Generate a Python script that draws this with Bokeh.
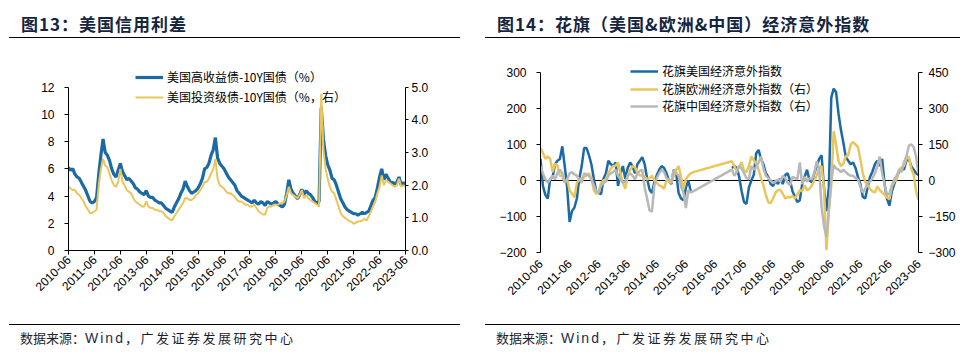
import math
import numpy as np
from bokeh.plotting import figure
from bokeh.layouts import row, column
from bokeh.models import (Range1d, LinearAxis, FixedTicker, Legend, LegendItem,
                          Span, NumeralTickFormatter, Div)
from bokeh.embed import file_html
from bokeh.resources import INLINE

# ---------------- data ----------------
tick_labels = ["2010-06", "2011-06", "2012-06", "2013-06", "2014-06", "2015-06", "2016-06",
               "2017-06", "2018-06", "2019-06", "2020-06", "2021-06", "2022-06", "2023-06"]

# monthly, 2010-06 .. 2023-06
hy_spread = [
    6.1, 5.9, 6.0, 5.6, 5.4, 5.3, 5.0,
    4.7, 4.4, 4.0, 3.6, 3.5, 3.6, 3.9, 5.6, 7.0, 8.2, 7.2, 7.0,
    6.6, 6.0, 5.6, 5.4, 5.9, 6.4, 5.8, 5.5, 5.2, 5.3, 5.1, 4.9,
    4.6, 4.5, 4.3, 4.2, 4.1, 4.4, 4.0, 3.9, 3.9, 3.7, 3.6, 3.5,
    3.5, 3.3, 3.1, 3.0, 2.9, 2.8, 3.2, 3.5, 3.8, 4.2, 4.5, 5.1,
    4.7, 4.4, 4.2, 4.3, 4.4, 4.6, 4.9, 5.3, 6.0, 6.1, 6.4, 7.0,
    7.4, 8.3, 6.8, 6.4, 6.2, 6.0, 5.7, 5.4, 5.2, 5.0, 4.8, 4.4,
    4.2, 4.0, 3.9, 3.8, 3.7, 3.6, 3.5, 3.7, 3.5, 3.4, 3.6, 3.5,
    3.3, 3.6, 3.5, 3.4, 3.5, 3.6, 3.4, 3.3, 3.2, 3.4, 4.2, 5.2,
    4.5, 4.2, 4.0, 3.8, 4.1, 4.5, 4.1, 4.4, 4.2, 4.1, 3.9, 3.6,
    3.5, 3.6, 10.5, 8.2, 7.0, 6.3, 5.9, 5.3, 5.2, 4.8, 4.3, 3.8,
    3.5, 3.2, 3.0, 2.9, 2.8, 2.7, 2.7, 2.6, 2.7, 2.8, 2.7, 2.8,
    2.9, 3.3, 3.7, 3.9, 4.6, 5.4, 6.0, 5.2, 5.6, 5.3, 5.0, 5.0,
    4.9, 5.0, 5.4, 4.8, 5.0, 4.8,
]
ig_spread = [
    1.95, 1.9, 1.85, 1.85, 1.75, 1.7, 1.6,
    1.5, 1.35, 1.25, 1.15, 1.15, 1.2, 1.25, 2.0, 2.5, 2.8, 2.6, 2.55,
    2.35, 2.15, 2.0, 1.95, 2.1, 2.5, 2.1, 2.0, 1.85, 1.8, 1.75, 1.6,
    1.5, 1.45, 1.4, 1.35, 1.35, 1.5, 1.35, 1.3, 1.3, 1.25, 1.25, 1.2,
    1.2, 1.15, 1.05, 1.0, 0.95, 0.92, 1.05, 1.15, 1.25, 1.35, 1.45, 1.6,
    1.6, 1.55, 1.55, 1.6, 1.7, 1.75, 1.85, 1.95, 2.1, 2.1, 2.2, 2.35,
    2.5, 2.8, 2.2, 2.0, 1.95, 1.9, 1.8, 1.75, 1.75, 1.7, 1.65, 1.55,
    1.5, 1.5, 1.45, 1.4, 1.4, 1.35, 1.35, 1.4, 1.3, 1.2, 1.15, 1.1,
    1.1, 1.3, 1.35, 1.35, 1.4, 1.4, 1.4, 1.45, 1.45, 1.5, 1.7, 1.95,
    1.75, 1.7, 1.65, 1.6, 1.7, 1.85, 1.6, 1.7, 1.6, 1.55, 1.5, 1.45,
    1.4, 1.35, 4.8, 3.1, 2.5, 2.2, 1.95, 1.8, 1.75, 1.55, 1.35, 1.15,
    1.05, 1.0, 0.95, 0.9, 0.88, 0.82, 0.85, 0.88, 0.9, 0.92, 0.97, 0.92,
    1.05, 1.2, 1.35, 1.5, 1.75, 1.95, 2.3, 2.0, 2.15, 2.1, 2.05, 2.0,
    1.95, 2.0, 2.2, 1.95, 2.0, 1.95,
]

N = None
us_surprise = [
    60, -15, -40, -50, 5, 10, 45,
    55, 60, 95, 40, -20, -115, -85, -75, -50, 5, 40, 90,
    90, 70, 45, 5, -30, -35, -38, 5, 20, 55, 45, 40,
    50, -15, 20, 40, 5, 35, 50, 40, 20, 45, 55, 65,
    45, 5, -25, -35, -5, 15, 30, 40, 35, 20, 0, -10,
    30, 20, -35, -50, -55, -20, 0, -30, N, N, N, N,
    N, N, N, N, N, N, N, N, N, N, N, N,
    35, 40, 35, 10, -30, -60, -65, -20, 0, 15, 75, 85,
    60, 45, 20, 10, -10, -15, 0, -10, 5, -10, 15, 20,
    0, -30, -45, -60, -55, -10, 10, 30, 0, -5, 20, 40,
    60, 70, -20, -85, -20, 230, 255, 245, 185, 140, 105, 65,
    55, 45, 50, 35, 10, -10, -45, -50, -20, 10, 25, 45,
    55, 40, 60, -10, -50, -70, -30, -10, 10, 25, 35, 30,
    55, 60, 40, 30, 20, 15,
]
eu_surprise = [
    135, 115, 90, 100, 90, 35, 70,
    62, 20, 18, -5, 5, -40, -55, -70, -10, 5, 8, 15,
    20, 30, 10, -40, -55, -50, -10, 0, 5, 30, 50, 60,
    62, 75, 30, -10, -35, 20, 45, 60, 55, 30, 22, 20,
    15, 5, 10, 20, 0, -10, -20, -25, -35, 0, -5, -10,
    20, 45, 60, 15, -35, 5, 20, 30, 35, N, N, N,
    N, N, N, N, N, N, N, N, N, N, N, N,
    80, 60, 35, 60, 75, 40, 35, 60, 100, 85, 70, 45,
    10, -20, -60, -90, -95, -75, -50, -40, -40, -55, -75, -70,
    -70, -65, -75, -60, -40, -45, -20, -40, -35, -20, 0, 20,
    50, 60, -30, -290, -130, -20, 205, 150, 80, 60, 70, 100,
    105, 150, 160, 150, 140, 90, 30, -5, -20, -35, -45, -50,
    -25, -40, -50, -60, -70, -78, -25, -5, 5, 45, 55, 60,
    90, 100, 50, 25, -45, -80,
]
cn_surprise = [
    60, 30, 5, -10, 5, 20, 5,
    30, 45, 30, -10, 5, 30, 35, 25, 20, 5, -10, 30,
    25, 20, 5, -20, -45, -50, -20, -10, -5, 20, 30, 35,
    45, 20, 5, -10, -5, 20, 30, 20, 5, 30, 40, 45,
    -30, -75, -125, -130, -20, 10, 30, 45, 35, 10, 5, -5,
    45, 30, 20, -25, -50, -115, -40, -50, -45, N, N, N,
    N, N, N, N, N, N, N, N, N, N, N, N,
    45, 20, 35, 60, 50, 30, 10, 5, 60, 45, 55, 75,
    100, 50, 20, 10, 0, -10, -5, 5, -5, 20, 10, -10,
    -20, 15, 10, 5, 75, -15, 15, -5, 10, 5, 30, 80,
    50, -110, -190, -235, -120, 0, 65, 50, 45, 35, 45, 35,
    25, 20, 20, 10, 5, -25, -50, -35, -10, -5, 10, 30,
    60, 100, 30, -20, -60, -55, -20, 5, 20, 45, 35, 75,
    100, 145, 150, 140, 100, 30,
]

# ---------------- styling ----------------
BLUE = "#1B69A5"
YELLOW = "#E9C65C"
GREY = "#B8B8B8"
TITLE_C = "#15243F"
CJK = "Noto Sans CJK SC"
LATIN = "Liberation Sans"

x_all = np.arange(len(hy_spread))
tick_pos = [i * 12 for i in range(len(tick_labels))]
overrides = {p: l for p, l in zip(tick_pos, tick_labels)}


def header(width, text, tx, lx0, lx1):
    html = (
        f'<div style="position:relative;width:{width}px;height:44px;margin:0;padding:0;">'
        f'<div style="position:absolute;left:{tx}px;top:13px;white-space:nowrap;'
        f"font-family:'{CJK}';font-weight:bold;font-size:17px;line-height:22px;"
        f'letter-spacing:1.0px;color:{TITLE_C};">{text}</div>'
        f'<div style="position:absolute;left:{lx0}px;top:37px;width:{lx1 - lx0}px;'
        f'height:0;border-top:1.4px solid #000;"></div></div>'
    )
    return Div(text=html, width=width, height=44, margin=0)


def footer(width, tx, lx0, lx1):
    html = (
        f'<div style="position:relative;width:{width}px;height:44px;margin:0;padding:0;">'
        f'<div style="position:absolute;left:{lx0}px;top:8px;width:{lx1 - lx0}px;'
        f'height:0;border-top:1.4px solid #000;"></div>'
        f'<div style="position:absolute;left:{tx}px;top:13px;white-space:nowrap;'
        f"font-family:'{CJK}';font-size:13px;line-height:18px;color:#1E1E2A;\">"
        f'<span>数据来源：</span>'
        f"<span style=\"font-family:'{LATIN}';font-size:14px;letter-spacing:2px;"
        f'color:#1C2B4A;">Wind</span>'
        f'<span style="letter-spacing:2.5px;">，广发证券发展研究中心</span></div></div>'
    )
    return Div(text=html, width=width, height=44, margin=0)


def style_axis(ax, tick_out, standoff):
    ax.axis_line_color = "black"
    ax.axis_line_width = 1
    ax.major_tick_line_color = "black"
    ax.major_tick_in = 0
    ax.major_tick_out = tick_out
    ax.minor_tick_line_color = None
    ax.major_label_text_font = LATIN
    ax.major_label_text_font_size = "12px"
    ax.major_label_text_color = "black"
    ax.major_label_standoff = standoff


def one_legend(label, renderer, x, y, size):
    return Legend(items=[LegendItem(label=label, renderers=[renderer])],
                  location=(x, y), glyph_width=28, glyph_height=14, label_height=14,
                  spacing=0, padding=0, margin=0, label_standoff=4,
                  label_text_font=CJK, label_text_font_size=size, label_text_color="black",
                  border_line_color=None, background_fill_alpha=0)


# ---------------- left chart ----------------
L_TOP = 13.962   # frame extends above 12 to host the legend; axis bounded to 0-12
pL = figure(width=485, height=272, x_range=Range1d(0, 156), y_range=Range1d(0, L_TOP),
            toolbar_location=None, output_backend="svg", title=None,
            min_border_left=68, min_border_right=80, min_border_top=16, min_border_bottom=66,
            outline_line_color=None)
pL.xgrid.visible = False
pL.ygrid.visible = False
pL.extra_y_ranges = {"r": Range1d(0, L_TOP / 2.4)}
axLR = LinearAxis(y_range_name="r", ticker=FixedTicker(ticks=[0, 1, 2, 3, 4, 5]),
                  formatter=NumeralTickFormatter(format="0.0"), bounds=(0, 5))
pL.add_layout(axLR, "right")
pL.yaxis[0].ticker = FixedTicker(ticks=[0, 2, 4, 6, 8, 10, 12])
pL.yaxis[0].bounds = (0, 12)
style_axis(pL.yaxis[0], 4, 10)
style_axis(axLR, 3, 3)
style_axis(pL.xaxis[0], 4, 3)
pL.xaxis[0].ticker = FixedTicker(ticks=tick_pos)
pL.xaxis[0].major_label_overrides = overrides
pL.xaxis[0].major_label_orientation = math.pi / 4

r1 = pL.line(x_all, hy_spread, line_color=BLUE, line_width=3.2)
r2 = pL.line(x_all, ig_spread, line_color=YELLOW, line_width=2, y_range_name="r")

pL.add_layout(one_legend("美国高收益债-10Y国债（%）", r1, 67, 165, "12px"))
pL.add_layout(one_legend("美国投资级债-10Y国债（%，右）", r2, 67, 145, "12px"))

# ---------------- right chart ----------------
R_TOP = 344.4
pR = figure(width=486, height=272, x_range=Range1d(0, 156), y_range=Range1d(-200, R_TOP),
            toolbar_location=None, output_backend="svg", title=None,
            min_border_left=55, min_border_right=53, min_border_top=12, min_border_bottom=64,
            outline_line_color=None)
pR.xgrid.visible = False
pR.ygrid.visible = False
pR.extra_y_ranges = {"r": Range1d(-300, R_TOP * 1.5)}
axRR = LinearAxis(y_range_name="r", ticker=FixedTicker(ticks=[-300, -150, 0, 150, 300, 450]),
                  bounds=(-300, 450))
pR.add_layout(axRR, "right")
pR.yaxis[0].ticker = FixedTicker(ticks=[-200, -100, 0, 100, 200, 300])
pR.yaxis[0].bounds = (-200, 300)
style_axis(pR.yaxis[0], 4, 10)
style_axis(axRR, 4, 6)
style_axis(pR.xaxis[0], 0, 9)
pR.xaxis[0].axis_line_color = None
pR.xaxis[0].major_tick_line_color = None
pR.xaxis[0].ticker = FixedTicker(ticks=tick_pos)
pR.xaxis[0].major_label_overrides = overrides
pR.xaxis[0].major_label_orientation = math.pi / 4

pR.add_layout(Span(location=0, dimension="width", line_color="black", line_width=1,
                   level="underlay"))

us_arr = np.array(us_surprise, dtype=float)
eu_arr = np.array(eu_surprise, dtype=float)
cn_arr = np.array(cn_surprise, dtype=float)
eu_ok = ~np.isnan(eu_arr)
cn_ok = ~np.isnan(cn_arr)

s1 = pR.line(x_all, us_arr, line_color=BLUE, line_width=2.5)
s2 = pR.line(x_all[eu_ok], eu_arr[eu_ok], line_color=YELLOW, line_width=2.5, y_range_name="r")
s3 = pR.line(x_all[cn_ok], cn_arr[cn_ok], line_color=GREY, line_width=2.5, y_range_name="r")

pR.add_layout(one_legend("花旗美国经济意外指数", s1, 90, 173, "12px"))
pR.add_layout(one_legend("花旗欧洲经济意外指数（右）", s2, 90, 155, "12px"))
pR.add_layout(one_legend("花旗中国经济意外指数（右）", s3, 90, 138, "12px"))

# ---------------- layout ----------------
left = column(header(485, "图13：美国信用利差", 21, 9, 460), pL, footer(485, 20, 9, 460))
right = column(header(486, "图14：花旗（美国&amp;欧洲&amp;中国）经济意外指数", 12, 0, 475), pR,
               footer(486, 11, 0, 475))
layout = row(left, right)

open("out.html", "w").write(file_html(layout, INLINE))
